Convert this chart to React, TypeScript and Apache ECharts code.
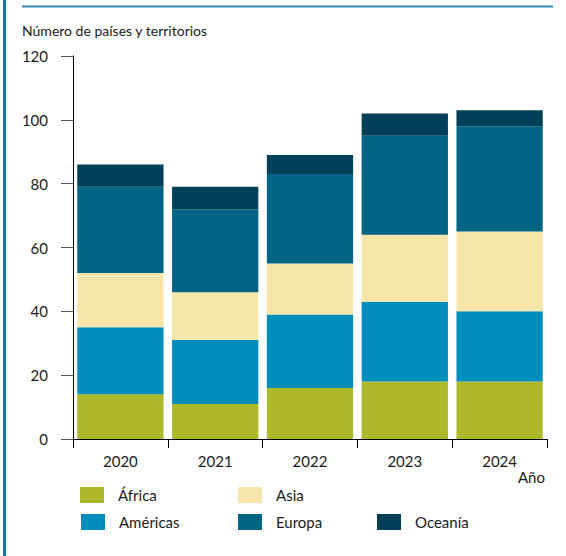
import React, { useEffect, useRef } from "react";
import * as echarts from "echarts";

const years = ["2020", "2021", "2022", "2023", "2024"];
const africa = [14, 11, 16, 18, 18];
const americas = [21, 20, 23, 25, 22];
const asia = [17, 15, 16, 21, 25];
const europe = [27, 26, 28, 31, 33];
const oceania = [7, 7, 6, 7, 5];

const FONT = "Lato, 'Liberation Sans', sans-serif";
const TEXT = "#1a1a1a";

export default function App() {
  const ref = useRef<HTMLDivElement>(null);
  useEffect(() => {
    if (!ref.current) return;
    const chart = echarts.init(ref.current, undefined, { renderer: "svg" });
    const mk = (name: string, data: number[], color: string) => ({
      name,
      type: "bar",
      stack: "total",
      data,
      barCategoryGap: "9%",
      itemStyle: { color },
      emphasis: { disabled: true },
    });
    const legendItem = (name: string, left: number, top: number) => ({
      data: [name],
      left,
      top,
      padding: 0,
      icon: "rect",
      itemWidth: 24,
      itemHeight: 16,
      selectedMode: false,
      textStyle: {
        fontFamily: FONT,
        fontSize: 15,
        color: TEXT,
        padding: [0, 0, 0, 9],
      },
    });
    chart.setOption({
      animation: false,
      textStyle: { fontFamily: FONT },
      grid: { left: 73, right: 19, top: 56, bottom: 117, containLabel: false },
      xAxis: {
        type: "category",
        data: years,
        axisLine: { show: true, lineStyle: { color: "#000", width: 1 } },
        axisTick: { show: true, length: 9, lineStyle: { color: "#000" } },
        axisLabel: { fontFamily: FONT, fontSize: 15, color: TEXT, margin: 14 },
      },
      yAxis: {
        type: "value",
        min: 0,
        max: 120,
        interval: 20,
        splitLine: { show: false },
        axisLine: { show: true, lineStyle: { color: "#000", width: 1 } },
        axisTick: { show: true, length: 12, lineStyle: { color: "#555" } },
        axisLabel: { fontFamily: FONT, fontSize: 15, color: TEXT, margin: 25 },
      },
      legend: [
        legendItem("África", 80, 487),
        legendItem("Asia", 238, 487),
        legendItem("Américas", 81, 514),
        legendItem("Europa", 238, 514),
        legendItem("Oceanía", 377, 514),
      ],
      graphic: [
        {
          type: "rect",
          shape: { x: 3, y: 0, width: 3, height: 556 },
          style: { fill: "#1577a9" },
        },
        {
          type: "rect",
          shape: { x: 22, y: 5.5, width: 531, height: 2 },
          style: { fill: "#2f86b8" },
        },
        {
          type: "text",
          left: 22,
          top: 23,
          style: {
            text: "Número de países y territorios",
            fontFamily: FONT,
            fontSize: 14,
            fill: TEXT,
          },
        },
        {
          type: "text",
          left: 518,
          top: 469,
          style: { text: "Año", fontFamily: FONT, fontSize: 15, fill: TEXT },
        },
      ],
      series: [
        mk("África", africa, "#aeb82b"),
        mk("Américas", americas, "#008dbc"),
        mk("Asia", asia, "#f7e6a9"),
        mk("Europa", europe, "#006585"),
        mk("Oceanía", oceania, "#003f58"),
      ],
    });
    return () => chart.dispose();
  }, []);
  return <div ref={ref} style={{ width: 566, height: 556, position: "absolute", left: 0, top: 0 }} />;
}
